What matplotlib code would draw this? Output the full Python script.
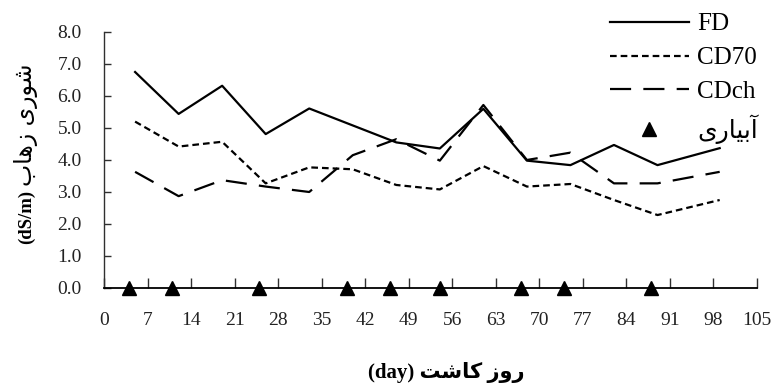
import matplotlib
matplotlib.use("Agg")
import matplotlib.pyplot as plt
from matplotlib.lines import Line2D

plt.rcParams['font.family'] = ['Liberation Serif', 'DejaVu Sans']

days = [5, 12, 19, 26, 33, 40, 47, 54, 61, 68, 75, 82, 89, 99]
fd = [6.75, 5.44, 6.32, 4.81, 5.61, 5.08, 4.55, 4.36, 5.6, 3.98, 3.84, 4.47, 3.84, 4.37]
cd70 = [5.2, 4.42, 4.57, 3.27, 3.77, 3.71, 3.22, 3.08, 3.81, 3.17, 3.25, 2.75, 2.28, 2.75]
cdch = [3.63, 2.87, 3.37, 3.17, 3.0, 4.15, 4.65, 3.98, 5.72, 4.0, 4.23, 3.27, 3.27, 3.63]
irrigation_days = [4, 11, 25, 39, 46, 54, 67, 74, 88]
irrigation_level = [0] * len(irrigation_days)

x_ticks = list(range(0, 106, 7))
y_ticks = [0, 1, 2, 3, 4, 5, 6, 7, 8]

# Persian text given in presentation forms, visual (left-to-right) order
irrig_label = "\uFEEF\uFEAD\uFE8E\uFEF4\uFE91\uFE81"          # آبیاری
ylabel_fa = "\uFE8F\uFE8E\uFEEB\uFEAF \uFEEF\uFEAD\uFEEE\uFEB7"  # شوری زهاب
xlabel_fa = "\uFE96\uFEB7\uFE8E\uFEDB \uFEAF\uFEED\uFEAD"        # روز کاشت

W, H = 778, 385
fig = plt.figure(figsize=(W/100, H/100), dpi=100)
ax = fig.add_axes([104/W, 1 - 288/H, (757-104)/W, (288-32)/H])

lw = 1.6
short_dash = (0, (3.0, 1.8))
long_dash = (0, (9.5, 5.5))
ax.plot(days, fd, color='black', lw=lw, linestyle='-', label='FD')
ax.plot(days, cd70, color='black', lw=lw, linestyle=short_dash, label='CD70')
ax.plot(days, cdch, color='black', lw=lw, linestyle=long_dash, label='CDch')
ax.plot(irrigation_days, irrigation_level, linestyle='none', marker='^',
        color='black', markersize=10, clip_on=False, zorder=5, label=irrig_label)

ax.set_xlim(0, 105)
ax.set_ylim(0, 8)
ax.set_xticks(x_ticks)
ax.set_xticklabels([str(t) for t in x_ticks])
ax.set_yticks(y_ticks)
ax.set_yticklabels([f"{t:.1f}" for t in y_ticks])

for s in ['top', 'right']:
    ax.spines[s].set_visible(False)
ax.spines['left'].set_color('#303030')
ax.spines['left'].set_linewidth(1.0)
ax.spines['bottom'].set_color('black')
ax.spines['bottom'].set_linewidth(1.3)

ax.tick_params(axis='x', direction='in', length=7, width=1.0, color='#303030',
               labelsize=14, pad=17, labelcolor='#222222')
ax.tick_params(axis='y', direction='in', length=5, width=1.0, color='#303030',
               labelsize=14, pad=16, labelcolor='#222222')

# x axis label (centered around x=446 px, baseline near y=378 px)
fig.text(446/W, 1 - 378/H, "(day) " + xlabel_fa, fontsize=15, fontweight='bold',
         ha='center', va='baseline')

# y axis label: bold "(dS/m)" below the Persian words
fig.text(26/W, 1 - 244/H, "(dS/m)", fontsize=13.5, fontweight='bold',
         rotation=90, ha='center', va='bottom')
fig.text(26/W, 1 - 186/H, ylabel_fa, fontsize=17, family=['DejaVu Sans'],
         rotation=90, ha='center', va='bottom')

handles = [
    Line2D([], [], color='black', lw=lw, linestyle='-'),
    Line2D([], [], color='black', lw=lw, linestyle=short_dash),
    Line2D([], [], color='black', lw=lw, linestyle=long_dash),
    Line2D([], [], color='black', linestyle='none', marker='^', markersize=10),
]
labels = ['FD', 'CD70', 'CDch', irrig_label]
leg = fig.legend(handles, labels, loc='upper left', bbox_to_anchor=(600/W, 1 - 3/H),
                 frameon=False, fontsize=18, handlelength=3.15, handletextpad=0.35,
                 labelspacing=0.45, borderaxespad=0)

fig.savefig("out.png", dpi=100)
